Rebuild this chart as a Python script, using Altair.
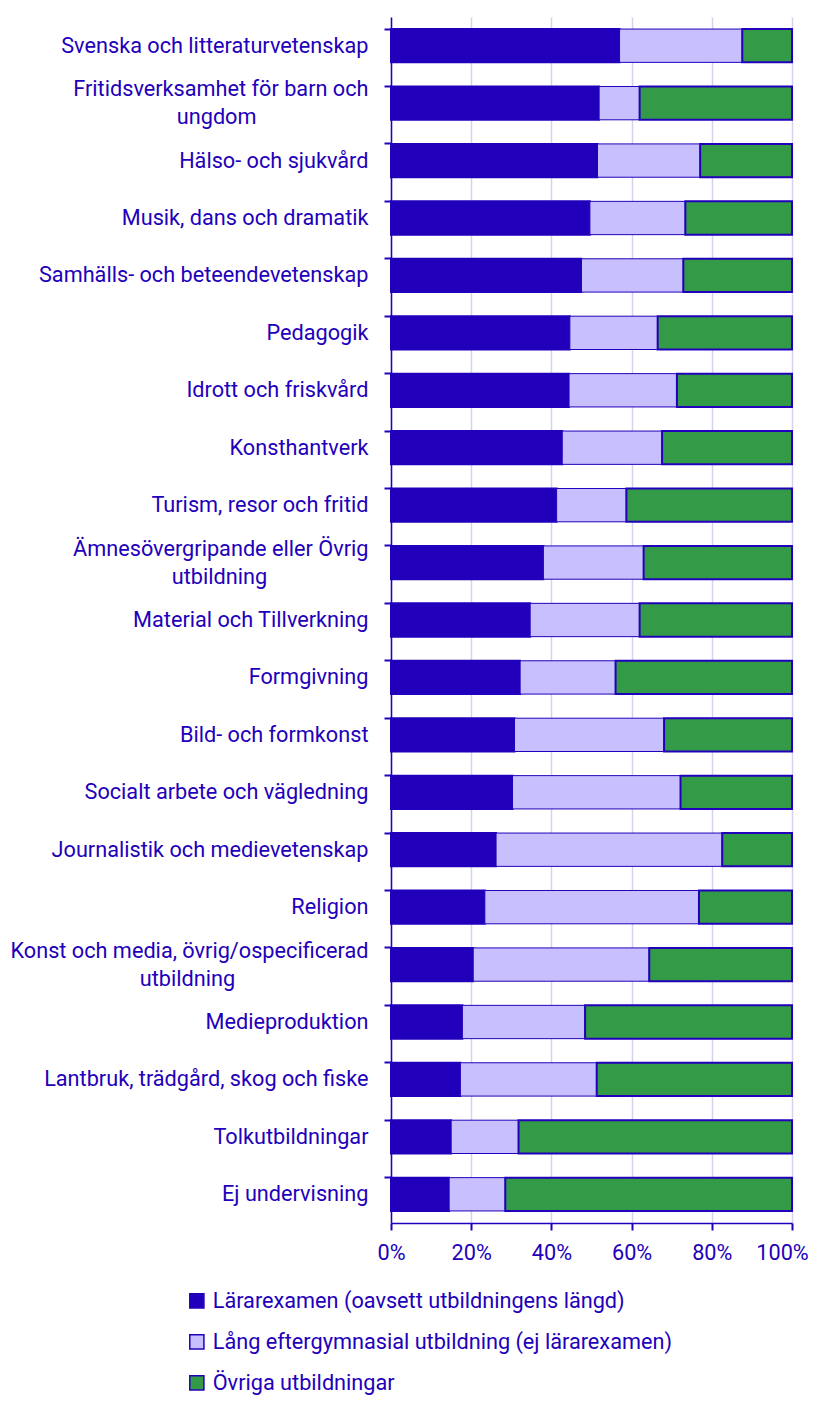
import json
import altair as alt
import pandas as pd

categories = [
    "Svenska och litteraturvetenskap",
    "Fritidsverksamhet för barn och ungdom",
    "Hälso- och sjukvård",
    "Musik, dans och dramatik",
    "Samhälls- och beteendevetenskap",
    "Pedagogik",
    "Idrott och friskvård",
    "Konsthantverk",
    "Turism, resor och fritid",
    "Ämnesövergripande eller Övrig utbildning",
    "Material och Tillverkning",
    "Formgivning",
    "Bild- och formkonst",
    "Socialt arbete och vägledning",
    "Journalistik och medievetenskap",
    "Religion",
    "Konst och media, övrig/ospecificerad utbildning",
    "Medieproduktion",
    "Lantbruk, trädgård, skog och fiske",
    "Tolkutbildningar",
    "Ej undervisning",
]

series = [
    "Lärarexamen (oavsett utbildningens längd)",
    "Lång eftergymnasial utbildning (ej lärarexamen)",
    "Övriga utbildningar",
]

teacher = [57.0, 51.9, 51.5, 49.6, 47.5, 44.6, 44.4, 42.7, 41.3, 38.0, 34.7,
           32.2, 30.8, 30.3, 26.2, 23.4, 20.5, 17.8, 17.3, 15.0, 14.5]
long_edu = [30.6, 10.1, 25.6, 23.8, 25.4, 21.9, 26.9, 24.9, 17.4, 25.0, 27.3,
            23.8, 37.3, 41.9, 56.4, 53.4, 43.9, 30.6, 34.0, 16.8, 14.0]
other = [12.4, 38.0, 22.9, 26.6, 27.1, 33.5, 28.7, 32.4, 41.3, 37.0, 38.0,
         44.0, 31.9, 27.8, 17.4, 23.2, 35.6, 51.6, 48.7, 68.2, 71.5]

x_ticks = [0, 0.2, 0.4, 0.6, 0.8, 1.0]

# wrapped labels: first line, second line, (nbsp count, blank count) for visual centring
wrapped = {
    "Fritidsverksamhet för barn och ungdom": ["Fritidsverksamhet för barn och", "ungdom", 0, 7],
    "Ämnesövergripande eller Övrig utbildning": ["Ämnesövergripande eller Övrig", "utbildning", 1, 6],
    "Konst och media, övrig/ospecificerad utbildning": ["Konst och media, övrig/ospecificerad", "utbildning", 1, 8],
}

DARK = "#2200bb"
LIGHT = "#c8c0fe"
GREEN = "#339a47"
TEXT = "#2200bb"
FS = 21.7
LINE_H = 28

rows = []
for i, c in enumerate(categories):
    for k, (s, vals) in enumerate(zip(series, [teacher, long_edu, other])):
        rows.append({"cat": c, "series": s, "order": k, "value": vals[i] / 100.0})
df = pd.DataFrame(rows)

NBSP = "\u00a0"
BLANK = "\u2800"
expr = "datum.label"
for full, (l1, l2, n_nb, n_bl) in wrapped.items():
    second = l2 + NBSP * n_nb + BLANK * n_bl
    expr = f"datum.label == {json.dumps(full)} ? {json.dumps([l1, second])} : " + expr

wrapped_test = f"indexof({json.dumps(list(wrapped.keys()))}, datum.value) >= 0"

chart = (
    alt.Chart(df)
    .mark_bar(stroke=DARK)
    .encode(
        y=alt.Y(
            "cat:N",
            sort=categories,
            title=None,
            scale=alt.Scale(paddingInner=0.42, paddingOuter=0.21),
            axis=alt.Axis(
                bandPosition=0,
                labelExpr=expr,
                labelFontSize=FS,
                labelFont="Roboto",
                labelColor=TEXT,
                labelPadding=16,
                labelLineHeight=LINE_H,
                labelLimit=400,
                labelOffset={"condition": {"test": wrapped_test, "value": -LINE_H / 2}, "value": 0},
                tickColor=DARK,
                tickWidth=2,
                tickSize=7,
                domainColor=DARK,
                domainWidth=1.5,
                grid=False,
            ),
        ),
        x=alt.X(
            "value:Q",
            stack="zero",
            title=None,
            scale=alt.Scale(domain=[0, 1], nice=False),
            axis=alt.Axis(
                values=x_ticks,
                format=".0%",
                labelFontSize=FS,
                labelFont="Roboto",
                labelColor=TEXT,
                labelPadding=12,
                labelFlush=False,
                labelOffset={"condition": {"test": "datum.value >= 1", "value": -10}, "value": 0},
                tickColor=DARK,
                tickWidth=2,
                tickSize=7,
                domainColor=DARK,
                domainWidth=1.5,
                grid=True,
                gridColor="#d4d2f0",
                gridWidth=1.5,
            ),
        ),
        color=alt.Color(
            "series:N",
            sort=series,
            scale=alt.Scale(domain=series, range=[DARK, LIGHT, GREEN]),
            legend=alt.Legend(
                title=None,
                orient="none",
                legendX=-205,
                legendY=1273,
                direction="vertical",
                symbolType="square",
                symbolSize=200,
                symbolStrokeColor=DARK,
                symbolStrokeWidth=1.5,
                labelFontSize=FS,
                labelFont="Roboto",
                labelColor=TEXT,
                labelOffset=5,
                rowPadding=18,
                padding=0,
                labelLimit=600,
            ),
        ),
        order=alt.Order("order:Q"),
        strokeWidth=alt.condition(
            alt.datum.order == 1, alt.value(1), alt.value(2)
        ),
    )
    .properties(
        width=401,
        height=1206,
        padding={"left": 383, "top": 9, "right": 19, "bottom": 172},
        autosize=alt.AutoSizeParams(type="none"),
    )
    .configure_view(stroke=None)
)

chart.save("out.html", embed_options={"renderer": "svg", "actions": False})
